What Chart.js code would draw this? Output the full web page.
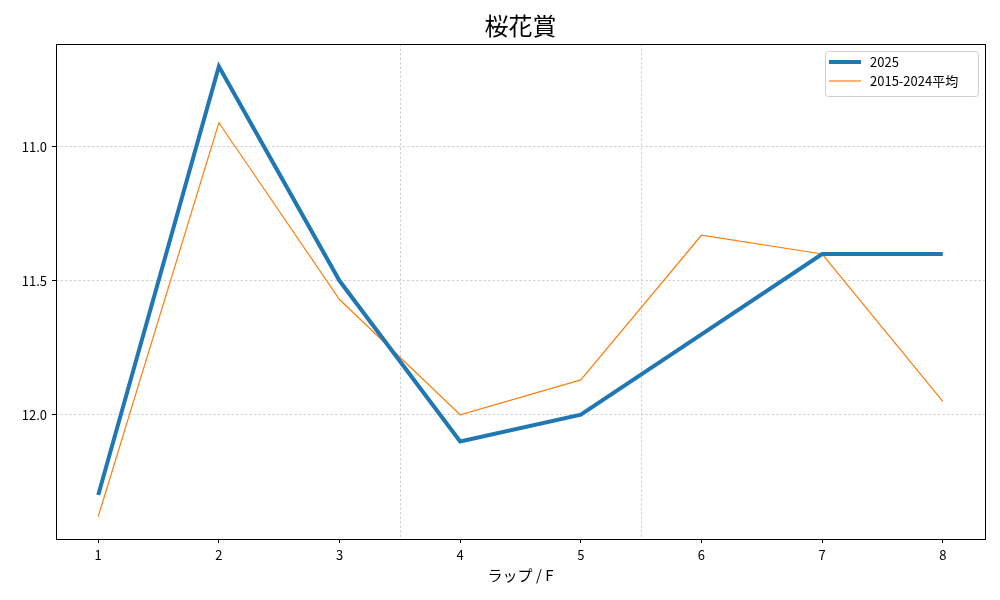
<!DOCTYPE html>
<html>
<head>
<meta charset="utf-8">
<script src="https://cdn.jsdelivr.net/npm/chart.js@4/dist/chart.umd.min.js"></script>
<style>
 html,body{margin:0;padding:0;background:#fff;}
 canvas{display:block;}
</style>
</head>
<body>
<canvas id="c" width="1000" height="600"></canvas>
<script>
const laps=[1,2,3,4,5,6,7,8];
const y2025=[12.30,10.70,11.50,12.10,12.00,11.70,11.40,11.40];
const yAvg=[12.38,10.91,11.57,12.00,11.87,11.33,11.40,11.95];
const yTicks=[11.0,11.5,12.0];
const dividers=[3.5,5.5];
const chartTitle='桜花賞';
const xTitle='ラップ / F';
const font='"Noto Sans CJK JP","DejaVu Sans",sans-serif';

const extras={
 id:'extras',
 beforeDatasetsDraw(chart){
  const {ctx,chartArea:a,scales:{x}}=chart;
  ctx.save();
  ctx.strokeStyle='#c4c4c4';ctx.lineWidth=0.8;ctx.setLineDash([2.5,2]);
  dividers.forEach(v=>{
   const px=Math.round(x.getPixelForValue(v))+0.5;
   ctx.beginPath();ctx.moveTo(px,a.top);ctx.lineTo(px,a.bottom);ctx.stroke();
  });
  ctx.restore();
 },
 afterDraw(chart){
  const {ctx,chartArea:a}=chart;
  ctx.save();
  ctx.strokeStyle='#000';ctx.lineWidth=1;ctx.setLineDash([]);
  ctx.strokeRect(a.left+0.5,a.top+0.5,a.right-a.left,a.bottom-a.top);
  ctx.fillStyle='#000';ctx.textAlign='center';ctx.textBaseline='middle';
  ctx.font='24px '+font;
  ctx.fillText(chartTitle,(a.left+a.right)/2,26);
  ctx.font='15px '+font;
  ctx.fillText(xTitle,(a.left+a.right)/2,575);
  // legend
  const lx=825,ly=51,lw=153,lh=45;
  ctx.fillStyle='rgba(255,255,255,0.8)';ctx.strokeStyle='#d0d0d0';
  ctx.beginPath();ctx.roundRect(lx+0.5,ly+0.5,lw,lh,3);ctx.fill();ctx.stroke();
  ctx.textAlign='left';ctx.font='13px '+font;
  chart.data.datasets.forEach((d,i)=>{
   const yy=ly+11+i*19;
   ctx.strokeStyle=d.borderColor;ctx.lineWidth=d.borderWidth;
   ctx.beginPath();ctx.moveTo(lx+4,yy);ctx.lineTo(lx+36,yy);ctx.stroke();
   ctx.fillStyle='#000';ctx.fillText(d.label,lx+45,yy);
  });
  ctx.restore();
 }
};

new Chart(document.getElementById('c'),{
 type:'line',
 data:{datasets:[
  {label:'2025',data:laps.map((l,i)=>({x:l,y:y2025[i]})),borderColor:'#1f77b4',borderWidth:4,pointRadius:0,tension:0},
  {label:'2015-2024平均',data:laps.map((l,i)=>({x:l,y:yAvg[i]})),borderColor:'#ff7f0e',borderWidth:1.2,pointRadius:0,tension:0}
 ]},
 options:{
  responsive:false,animation:false,
  layout:{padding:{top:44,right:15,left:0,bottom:0}},
  plugins:{legend:{display:false},title:{display:false},tooltip:{enabled:false}},
  scales:{
   x:{type:'linear',min:0.65,max:8.35,
    afterBuildTicks(s){s.ticks=laps.map(v=>({value:v}));},
    afterFit(s){s.height=61;},
    ticks:{color:'#000',font:{family:font,size:13},padding:4,maxRotation:0,callback:v=>String(v)},
    grid:{color:'rgba(0,0,0,0)',tickColor:'#000',tickLength:4,drawOnChartArea:false},
    border:{display:false}},
   y:{type:'linear',reverse:true,min:10.616,max:12.464,
    afterBuildTicks(s){s.ticks=yTicks.map(v=>({value:v}));},
    afterFit(s){s.width=56;},
    ticks:{color:'#000',font:{family:font,size:13},padding:5,callback:v=>v.toFixed(1)},
    grid:{color:'#c4c4c4',lineWidth:0.8,tickColor:'#000',tickLength:4,tickBorderDash:[],tickWidth:1},
    border:{display:false,dash:[2.5,2]}}
  }
 },
 plugins:[extras]
});
</script>
</body>
</html>
